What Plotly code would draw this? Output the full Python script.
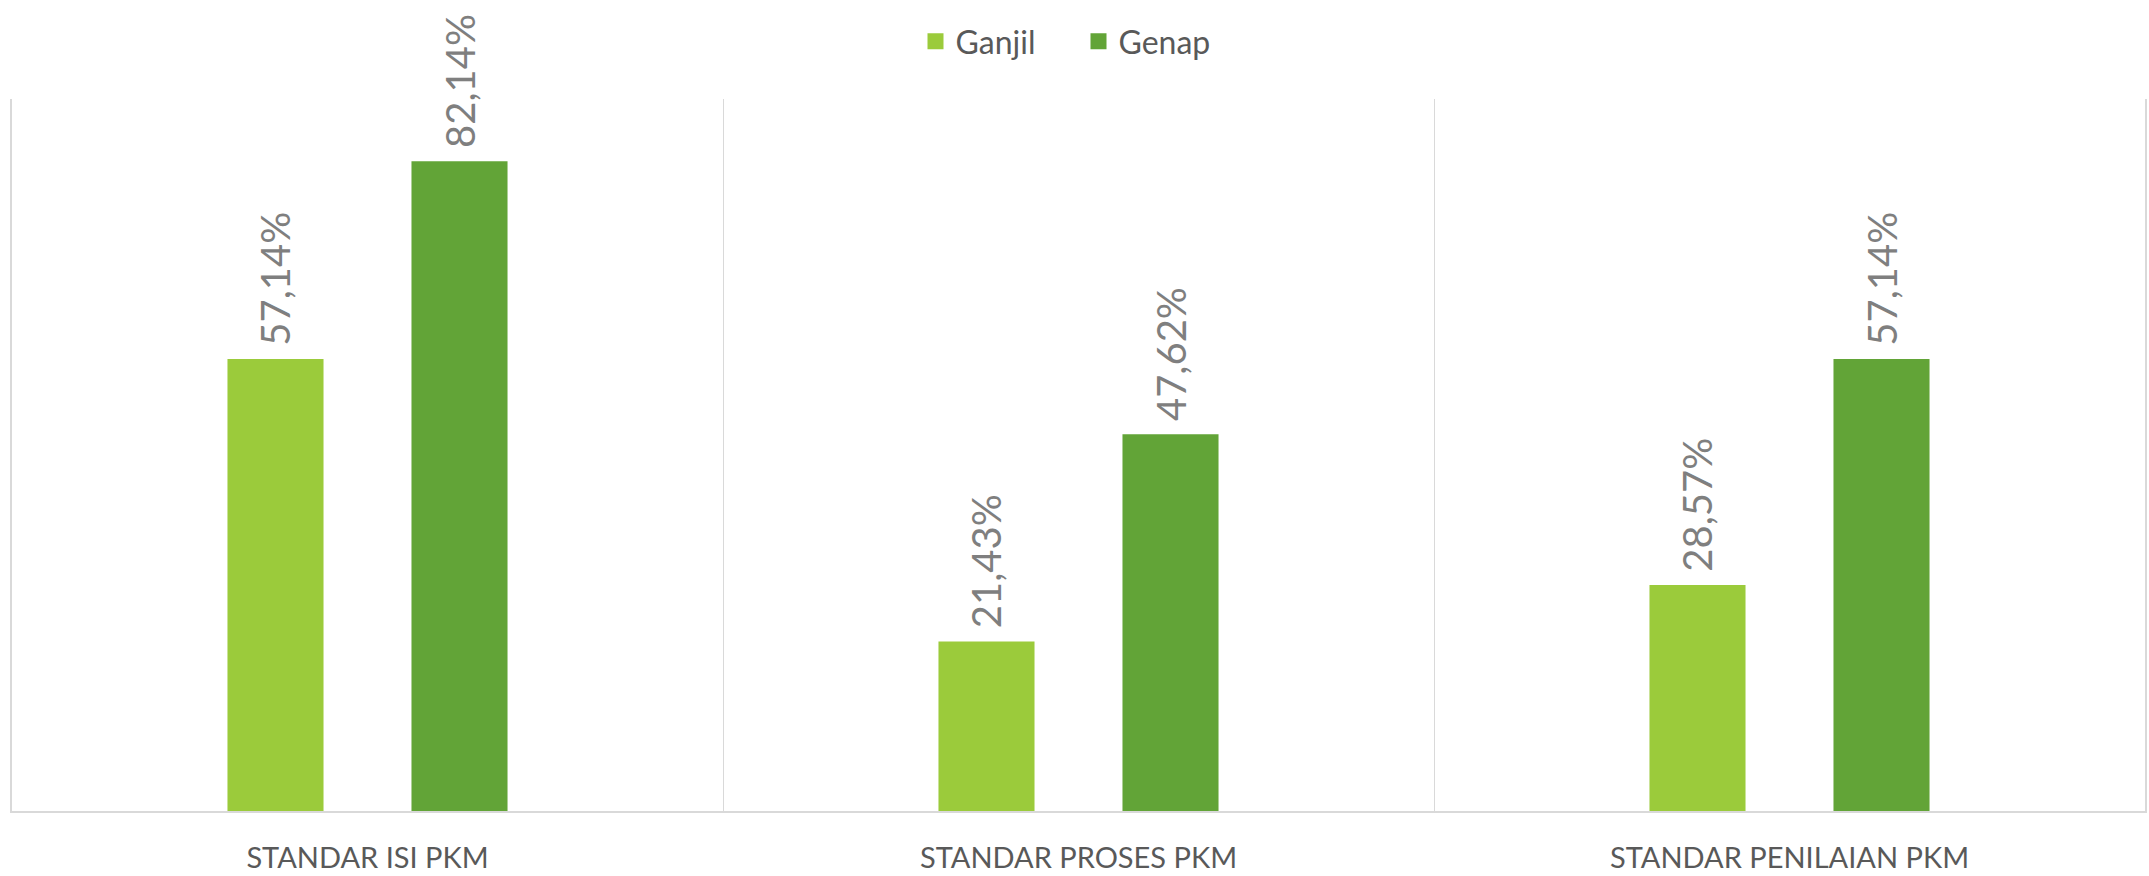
import plotly.graph_objects as go

categories = ["STANDAR ISI PKM", "STANDAR PROSES PKM", "STANDAR PENILAIAN PKM"]
ganjil = [57.14, 21.43, 28.57]
genap = [82.14, 47.62, 57.14]
series_names = ["Ganjil", "Genap"]
colors = ["#9BCB3B", "#62A437"]

FONT = "Lato"

fig = go.Figure()
for name, vals, col in zip(series_names, [ganjil, genap], colors):
    fig.add_trace(go.Bar(
        x=categories, y=vals, name=name, marker=dict(color=col, line=dict(width=0)),
        texttemplate="\u00a0%{y:.2f}%", textposition="outside", textangle=-90,
        textfont=dict(family=FONT, size=40, color="#7F7F7F"),
        constraintext="none", cliponaxis=False, showlegend=False,
    ))
    fig.add_trace(go.Scatter(
        x=[None], y=[None], mode="markers", name=name,
        marker=dict(symbol="square", size=20, color=col),
    ))

fig.update_layout(
    width=2149, height=876,
    margin=dict(l=12, r=4, t=99, b=65, autoexpand=False),
    paper_bgcolor="white", plot_bgcolor="white",
    separators=",.",
    barmode="group", bargap=0.4824, bargroupgap=0.478,
    font=dict(family=FONT, color="#595959"),
    legend=dict(orientation="h", x=0.500, xanchor="center", y=1.081, yanchor="middle",
                font=dict(family=FONT, size=32, color="#595959"), itemsizing="trace",
                traceorder="normal", entrywidth=118, entrywidthmode="pixels"),
    xaxis=dict(tickson="boundaries", showgrid=True, gridcolor="#D9D9D9", gridwidth=1,
               showline=True, linecolor="#D9D9D9", linewidth=1.5,
               ticks="", ticklabelstandoff=20,
               tickfont=dict(family=FONT, size=29, color="#595959"), automargin=False),
    yaxis=dict(range=[0, 90], showgrid=False, showticklabels=False, zeroline=False,
               showline=True, linecolor="#D9D9D9", linewidth=1.5, mirror=True, ticks=""),
)

fig.write_html("out.html", config={"displayModeBar": False},
               post_script="document.body.style.margin='0';document.body.style.overflow='hidden';")
